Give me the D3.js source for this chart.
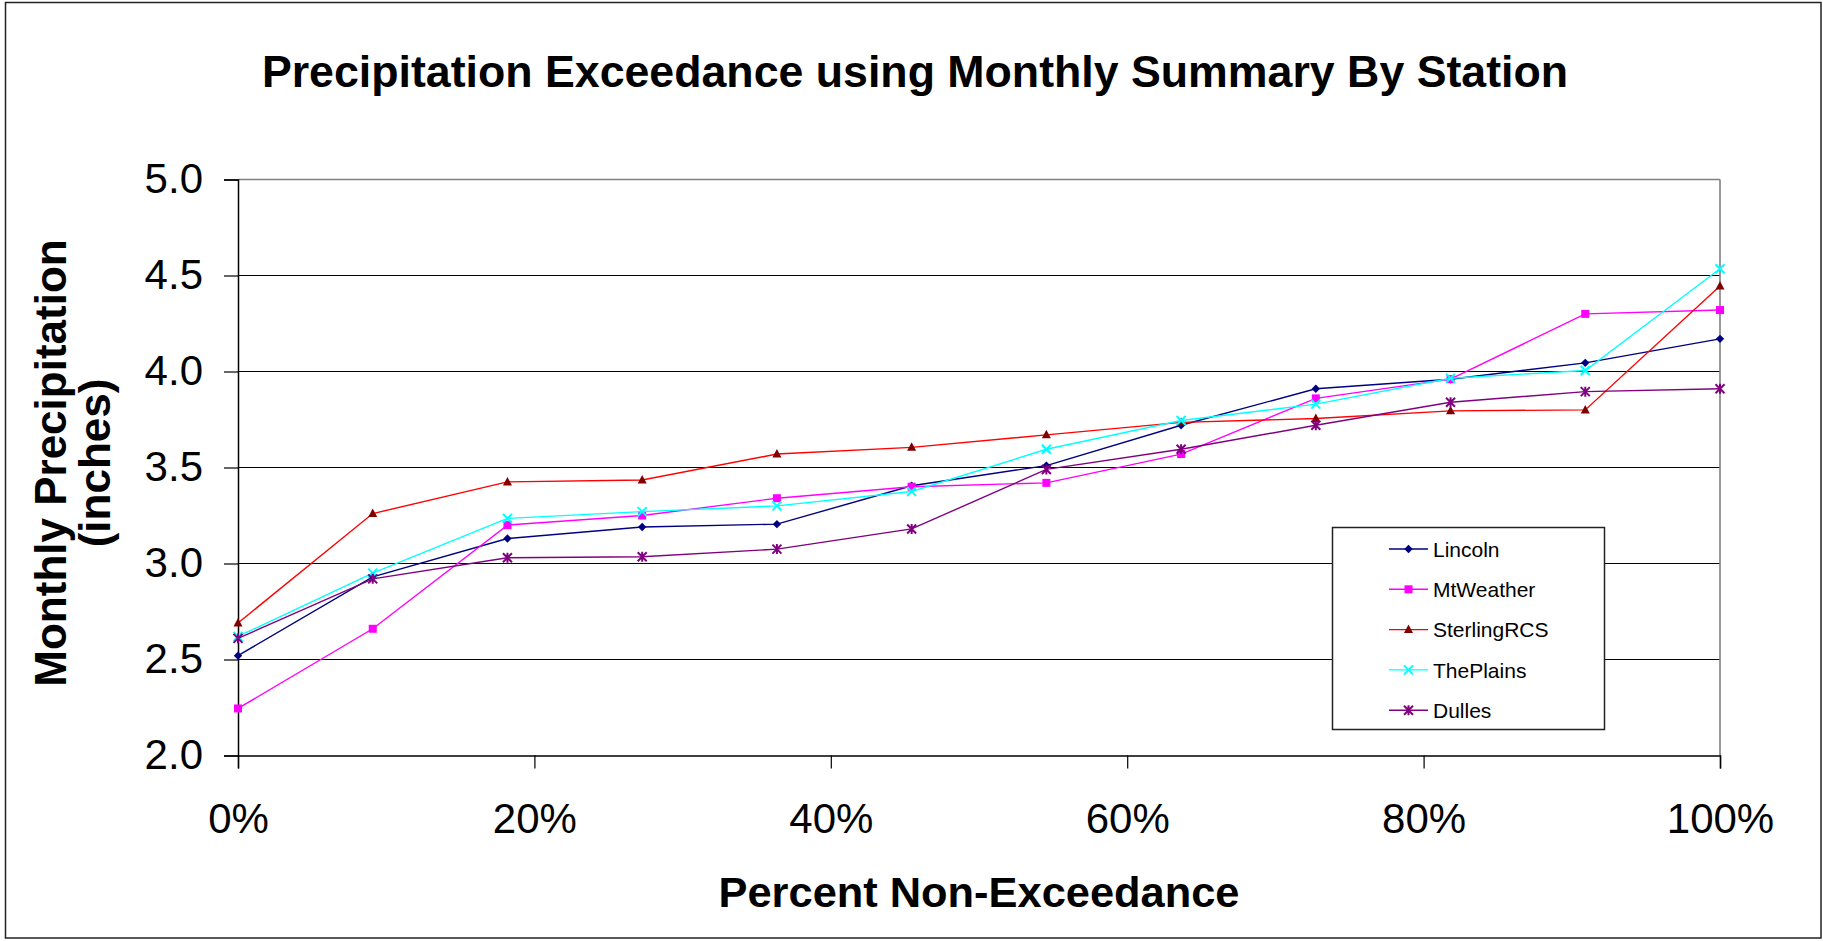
<!DOCTYPE html>
<html>
<head>
<meta charset="utf-8">
<script src="https://cdn.jsdelivr.net/npm/d3@7"></script>
<style>
  html, body { margin: 0; padding: 0; background: #fff; }
  svg { display: block; }
  text { font-family: "Liberation Sans", Arial, sans-serif; fill: #000; }
</style>
</head>
<body>
<svg id="chart" width="1823" height="941"></svg>
<script>
// ---- Data ----
const percentLabels = ["0%", "20%", "40%", "60%", "80%", "100%"];
const xTickValues = [0, 0.2, 0.4, 0.6, 0.8, 1.0];
const yTickValues = [2.0, 2.5, 3.0, 3.5, 4.0, 4.5, 5.0];
const pointCount = 12; // ranks 0..11 -> 0%..100%

const seriesNames = ["Lincoln", "MtWeather", "SterlingRCS", "ThePlains", "Dulles"];
const lincoln     = [2.52, 2.93, 3.13, 3.19, 3.205, 3.405, 3.51, 3.72, 3.91, 3.96, 4.045, 4.17];
const mtWeather   = [2.245, 2.66, 3.20, 3.25, 3.34, 3.40, 3.42, 3.57, 3.86, 3.96, 4.30, 4.32];
const sterlingRCS = [2.69, 3.26, 3.425, 3.435, 3.57, 3.605, 3.67, 3.735, 3.755, 3.795, 3.80, 4.445];
const thePlains   = [2.62, 2.95, 3.235, 3.27, 3.30, 3.375, 3.595, 3.745, 3.83, 3.965, 4.005, 4.535];
const dulles      = [2.61, 2.92, 3.03, 3.035, 3.075, 3.18, 3.49, 3.595, 3.72, 3.84, 3.895, 3.91];

const titleText = "Precipitation Exceedance using Monthly Summary By Station";
const xTitle = "Percent Non-Exceedance";
const yTitle1 = "Monthly Precipitation";
const yTitle2 = "(inches)";

// ---- Styles ----
const styles = [
  { line: "#000080", marker: "#000080", shape: "diamond" },
  { line: "#FF00FF", marker: "#FF00FF", shape: "square" },
  { line: "#FF0000", marker: "#800000", shape: "triangle" },
  { line: "#00FFFF", marker: "#00FFFF", shape: "x" },
  { line: "#800080", marker: "#800080", shape: "star" }
];
const allSeries = [lincoln, mtWeather, sterlingRCS, thePlains, dulles];

const svg = d3.select("#chart");
const W = 1823, H = 941;
const plot = { left: 238, right: 1720, top: 179.5, bottom: 755.5 };

svg.append("rect").attr("x", 0).attr("y", 0).attr("width", W).attr("height", H).attr("fill", "#fff");
// outer border
svg.append("rect").attr("x", 5.5).attr("y", 2.5).attr("width", 1815.5).attr("height", 935.5)
  .attr("fill", "none").attr("stroke", "#222").attr("stroke-width", 1.5);

const x = d3.scaleLinear().domain([0, 1]).range([plot.left, plot.right]);
const y = d3.scaleLinear().domain([2, 5]).range([plot.bottom, plot.top]);

// gridlines
svg.append("g").selectAll("line").data(yTickValues.filter(v => v > 2 && v < 5)).join("line")
  .attr("x1", plot.left).attr("x2", plot.right)
  .attr("y1", d => y(d)).attr("y2", d => y(d))
  .attr("stroke", "#000").attr("stroke-width", 1.2);
// top border & right border (gray)
svg.append("line").attr("x1", plot.left).attr("x2", plot.right).attr("y1", y(5)).attr("y2", y(5))
  .attr("stroke", "#808080").attr("stroke-width", 1.6);
svg.append("line").attr("x1", plot.right).attr("x2", plot.right).attr("y1", y(5)).attr("y2", y(2))
  .attr("stroke", "#808080").attr("stroke-width", 1.6);

// y axis
const yAxis = d3.axisLeft(y).tickValues(yTickValues).tickFormat(d3.format(".1f"))
  .tickSize(14).tickPadding(21);
const gy = svg.append("g").attr("transform", `translate(${plot.left},0)`).call(yAxis);
gy.select(".domain").attr("stroke", "#000").attr("stroke-width", 1.5);
gy.selectAll(".tick line").attr("stroke", "#000").attr("stroke-width", 1.2);
gy.selectAll(".tick text").style("font-size", "42px").style("font-family", "'Liberation Sans', Arial, sans-serif").attr("fill", "#000");

// x axis
const xAxis = d3.axisBottom(x).tickValues(xTickValues).tickFormat((d, i) => percentLabels[i])
  .tickSize(13).tickPadding(35);
const gx = svg.append("g").attr("transform", `translate(0,${plot.bottom})`).call(xAxis);
gx.select(".domain").attr("stroke", "#000").attr("stroke-width", 1.5);
gx.selectAll(".tick line").attr("stroke", "#000").attr("stroke-width", 1.2);
gx.selectAll(".tick text").style("font-size", "42px").style("font-family", "'Liberation Sans', Arial, sans-serif").attr("fill", "#000");

// markers
function drawMarker(g, shape, color, cx, cy) {
  if (shape === "diamond") {
    g.append("path").attr("d", `M${cx},${cy-4.2}L${cx+4.2},${cy}L${cx},${cy+4.2}L${cx-4.2},${cy}Z`).attr("fill", color);
  } else if (shape === "square") {
    g.append("rect").attr("x", cx-4).attr("y", cy-4).attr("width", 8).attr("height", 8).attr("fill", color);
  } else if (shape === "triangle") {
    g.append("path").attr("d", `M${cx},${cy-5}L${cx+4.5},${cy+3.5}L${cx-4.5},${cy+3.5}Z`).attr("fill", color);
  } else if (shape === "x") {
    g.append("path").attr("d", `M${cx-4.5},${cy-4.5}L${cx+4.5},${cy+4.5}M${cx+4.5},${cy-4.5}L${cx-4.5},${cy+4.5}`)
      .attr("stroke", color).attr("stroke-width", 2).attr("fill", "none");
  } else if (shape === "star") {
    g.append("path").attr("d", `M${cx-4.5},${cy-4.5}L${cx+4.5},${cy+4.5}M${cx+4.5},${cy-4.5}L${cx-4.5},${cy+4.5}M${cx},${cy-5}L${cx},${cy+5}`)
      .attr("stroke", color).attr("stroke-width", 2).attr("fill", "none");
  }
}

const line = d3.line().x((d, i) => x(i / (pointCount - 1))).y(d => y(d));
allSeries.forEach((vals, si) => {
  const st = styles[si];
  const g = svg.append("g");
  g.append("path").datum(vals).attr("d", line).attr("fill", "none")
    .attr("stroke", st.line).attr("stroke-width", 1.4);
  vals.forEach((v, i) => drawMarker(g, st.shape, st.marker, x(i / (pointCount - 1)), y(v)));
});

// legend
const lg = svg.append("g");
lg.append("rect").attr("x", 1332.5).attr("y", 527.5).attr("width", 272).attr("height", 202)
  .attr("fill", "#fff").attr("stroke", "#222").attr("stroke-width", 1.5);
seriesNames.forEach((name, i) => {
  const cy = 549 + i * 40.3;
  const st = styles[i];
  lg.append("line").attr("x1", 1389).attr("x2", 1428).attr("y1", cy).attr("y2", cy)
    .attr("stroke", st.line).attr("stroke-width", 1.4);
  drawMarker(lg, st.shape, st.marker, 1408.5, cy);
  lg.append("text").attr("x", 1433).attr("y", cy + 7.8).style("font-size", "21px").text(name);
});

// titles
svg.append("text").attr("x", 915).attr("y", 87).attr("text-anchor", "middle")
  .style("font-size", "44.7px").style("font-weight", "bold").text(titleText);
svg.append("text").attr("x", 979).attr("y", 907).attr("text-anchor", "middle")
  .style("font-size", "43.4px").style("font-weight", "bold").text(xTitle);
svg.append("text").attr("transform", "translate(66,463) rotate(-90)").attr("text-anchor", "middle")
  .style("font-size", "44px").style("font-weight", "bold").text(yTitle1);
svg.append("text").attr("transform", "translate(110,463) rotate(-90)").attr("text-anchor", "middle")
  .style("font-size", "44px").style("font-weight", "bold").text(yTitle2);
</script>
</body>
</html>
